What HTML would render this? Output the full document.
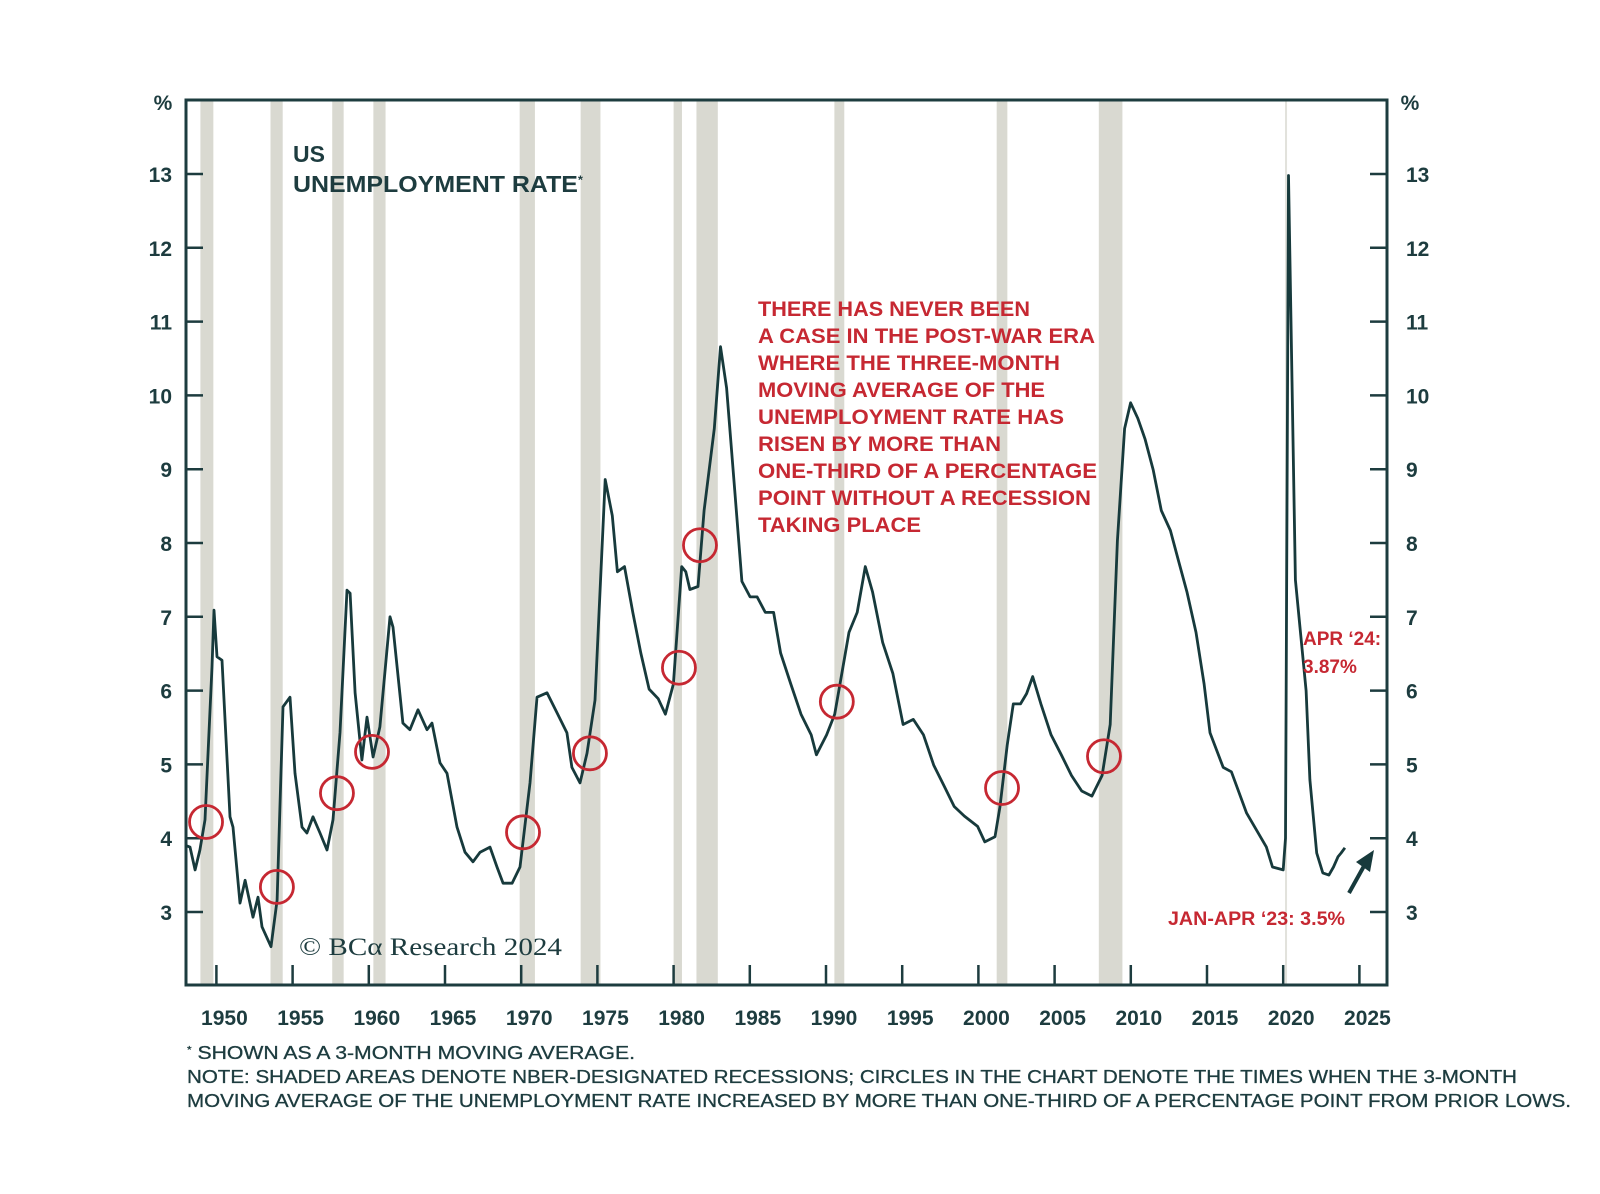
<!DOCTYPE html>
<html><head><meta charset="utf-8"><style>
html,body{margin:0;padding:0;background:#fff;}
svg{display:block;}
text{font-family:"Liberation Sans",sans-serif;}
</style></head><body>
<svg id="chart" width="1600" height="1194" viewBox="0 0 1600 1194">
<g id="shading"></g>
<g id="axes"></g>
<g id="series"></g>
<g id="circles"></g>
<text x="293" y="162" font-size="23" font-weight="bold" fill="#1d3c3f">US</text>
<text x="293" y="192" font-size="23" font-weight="bold" fill="#1d3c3f" textLength="290" lengthAdjust="spacingAndGlyphs">UNEMPLOYMENT RATE<tspan font-size="12" dy="-8">*</tspan></text>
<g fill="#c62832" font-size="21" font-weight="bold">
<text x="758" y="316" textLength="272" lengthAdjust="spacingAndGlyphs">THERE HAS NEVER BEEN</text>
<text x="758" y="343" textLength="337" lengthAdjust="spacingAndGlyphs">A CASE IN THE POST-WAR ERA</text>
<text x="758" y="370" textLength="302" lengthAdjust="spacingAndGlyphs">WHERE THE THREE-MONTH</text>
<text x="758" y="397" textLength="287" lengthAdjust="spacingAndGlyphs">MOVING AVERAGE OF THE</text>
<text x="758" y="424" textLength="306" lengthAdjust="spacingAndGlyphs">UNEMPLOYMENT RATE HAS</text>
<text x="758" y="451" textLength="243" lengthAdjust="spacingAndGlyphs">RISEN BY MORE THAN</text>
<text x="758" y="478" textLength="339" lengthAdjust="spacingAndGlyphs">ONE-THIRD OF A PERCENTAGE</text>
<text x="758" y="505" textLength="333" lengthAdjust="spacingAndGlyphs">POINT WITHOUT A RECESSION</text>
<text x="758" y="532" textLength="163" lengthAdjust="spacingAndGlyphs">TAKING PLACE</text>
</g>
<text x="1303" y="645" font-size="19" font-weight="bold" fill="#c62832">APR ‘24:</text>
<text x="1303" y="673" font-size="19" font-weight="bold" fill="#c62832">3.87%</text>
<text x="1168" y="925" font-size="19" font-weight="bold" fill="#c62832" textLength="177" lengthAdjust="spacingAndGlyphs">JAN-APR ‘23: 3.5%</text>
<g>
<line x1="1349" y1="893" x2="1364" y2="866" stroke="#173a3c" stroke-width="4"/>
<polygon points="1374,850 1356,862 1370,872" fill="#173a3c"/>
</g>
<text x="299" y="955" style="font-family:'Liberation Serif',serif" font-size="25" fill="#1d3c3f" textLength="263" lengthAdjust="spacingAndGlyphs">© BCα Research 2024</text>
<g fill="#1d3c3f" font-size="18" stroke="#1d3c3f" stroke-width="0.3">
<text x="187" y="1059" textLength="448" lengthAdjust="spacingAndGlyphs"><tspan font-size="10" dy="-6">*</tspan><tspan dy="6"> SHOWN AS A 3-MONTH MOVING AVERAGE.</tspan></text>
<text x="187" y="1083" textLength="1330" lengthAdjust="spacingAndGlyphs">NOTE: SHADED AREAS DENOTE NBER-DESIGNATED RECESSIONS; CIRCLES IN THE CHART DENOTE THE TIMES WHEN THE 3-MONTH</text>
<text x="187" y="1107" textLength="1384" lengthAdjust="spacingAndGlyphs">MOVING AVERAGE OF THE UNEMPLOYMENT RATE INCREASED BY MORE THAN ONE-THIRD OF A PERCENTAGE POINT FROM PRIOR LOWS.</text>
</g>
</svg>
<script>
const years=[1948.0,1948.27,1948.6,1948.92,1949.25,1949.71,1949.84,1950.04,1950.37,1950.89,1951.09,1951.55,1951.88,1952.4,1952.73,1952.99,1953.58,1953.98,1954.37,1954.83,1955.16,1955.62,1955.94,1956.34,1956.8,1957.26,1957.65,1958.11,1958.57,1958.77,1959.1,1959.55,1959.88,1960.28,1960.73,1961.39,1961.59,1962.24,1962.7,1963.23,1963.82,1964.15,1964.67,1965.13,1965.79,1966.31,1966.84,1967.3,1967.95,1968.41,1968.81,1969.4,1969.92,1970.58,1971.04,1971.69,1972.35,1973.0,1973.33,1973.86,1974.32,1974.84,1975.51,1975.98,1976.31,1976.78,1977.32,1977.85,1978.39,1978.99,1979.46,1979.99,1980.53,1980.8,1981.07,1981.6,1982.0,1982.67,1983.08,1983.48,1984.01,1984.48,1985.02,1985.48,1986.02,1986.56,1987.02,1987.69,1988.36,1989.03,1989.37,1990.04,1990.57,1991.04,1991.51,1992.05,1992.58,1993.05,1993.72,1994.39,1995.06,1995.73,1996.4,1997.07,1997.74,1998.41,1999.08,1999.95,2000.42,2001.09,2001.42,2001.89,2002.29,2002.76,2003.16,2003.56,2004.1,2004.77,2005.44,2006.11,2006.78,2007.45,2008.12,2008.65,2009.12,2009.59,2009.99,2010.46,2010.93,2011.47,2012.0,2012.6,2013.14,2013.68,2014.28,2014.81,2015.2,2016.06,2016.6,2017.6,2018.9,2019.3,2020.0,2020.15,2020.35,2020.8,2021.5,2021.75,2022.2,2022.6,2023.0,2023.3,2023.6,2023.8,2024.05];
const rates=[3.9,3.88,3.57,3.84,4.25,6.32,7.09,6.46,6.41,4.29,4.15,3.12,3.43,2.93,3.2,2.8,2.53,3.16,5.78,5.91,4.88,4.15,4.07,4.29,4.07,3.84,4.25,5.43,7.36,7.32,5.97,5.06,5.64,5.1,5.51,7.0,6.86,5.56,5.47,5.74,5.47,5.56,5.02,4.88,4.15,3.81,3.68,3.81,3.88,3.61,3.39,3.39,3.61,4.75,5.91,5.97,5.7,5.43,4.96,4.75,5.15,5.87,8.86,8.37,7.61,7.68,7.06,6.51,6.02,5.89,5.68,6.09,7.68,7.61,7.37,7.41,8.44,9.55,10.66,10.1,8.72,7.48,7.27,7.27,7.06,7.06,6.51,6.09,5.68,5.4,5.13,5.4,5.68,6.23,6.79,7.06,7.68,7.34,6.65,6.23,5.54,5.61,5.4,4.99,4.71,4.43,4.3,4.16,3.95,4.02,4.43,5.26,5.82,5.82,5.96,6.19,5.82,5.4,5.13,4.85,4.64,4.57,4.85,5.54,8.03,9.55,9.9,9.69,9.41,8.99,8.44,8.17,7.75,7.34,6.79,6.09,5.43,4.96,4.9,4.34,3.88,3.61,3.57,4.0,12.98,7.5,6.0,4.79,3.8,3.53,3.5,3.61,3.75,3.8,3.87];
const recStart=[1948.95,1953.55,1957.6,1960.3,1969.9,1973.9,1980.0,1981.5,1990.55,2001.2,2007.9];
const recEnd=[1949.8,1954.35,1958.35,1961.1,1970.9,1975.2,1980.55,1982.9,1991.2,2001.9,2009.45];
const circleYears=[1949.32,1953.97,1957.91,1960.21,1970.12,1974.51,1980.35,1981.73,1990.71,2001.55,2008.24];
const circleRates=[4.22,3.34,4.61,5.17,4.08,5.15,6.31,7.97,5.85,4.68,5.11];
const yTicks=[3,4,5,6,7,8,9,10,11,12,13];
const xTicks=[1950,1955,1960,1965,1970,1975,1980,1985,1990,1995,2000,2005,2010,2015,2020,2025];

const L=186,R=1387,T=100,B=985;
const X=yr=>216.4+(yr-1950)*15.24;
const Y=v=>912-(v-3)*73.8;
const NS='http://www.w3.org/2000/svg';
function mk(tag,parent){const e=document.createElementNS(NS,tag);parent.appendChild(e);return e;}
const C='#1d3c3f';

const sh=document.getElementById('shading');
recStart.forEach((s,i)=>{const r=mk('rect',sh);


r.setAttribute('x',X(s));r.setAttribute('y',T);r.setAttribute('width',X(recEnd[i])-X(s));r.setAttribute('height',B-T);r.setAttribute('fill','#d9d9d1');});
{const r=mk('rect',sh);


r.setAttribute('x',X(2020.12));r.setAttribute('y',T);r.setAttribute('width',2);r.setAttribute('height',B-T);r.setAttribute('fill','#e2e2dc');}

const ax=document.getElementById('axes');
const frame=mk('rect',ax);


frame.setAttribute('x',L);frame.setAttribute('y',T);frame.setAttribute('width',R-L);frame.setAttribute('height',B-T);frame.setAttribute('fill','none');frame.setAttribute('stroke',C);frame.setAttribute('stroke-width','3');
yTicks.forEach(v=>{
 const y=Y(v);
 const t1=mk('line',ax);
 
 
 t1.setAttribute('x1',L);t1.setAttribute('x2',L+17);t1.setAttribute('y1',y);t1.setAttribute('y2',y);t1.setAttribute('stroke',C);t1.setAttribute('stroke-width','2.5');
 const t2=mk('line',ax);
 
 
 t2.setAttribute('x1',R-17);t2.setAttribute('x2',R);t2.setAttribute('y1',y);t2.setAttribute('y2',y);t2.setAttribute('stroke',C);t2.setAttribute('stroke-width','2.5');
 const l1=mk('text',ax);
 
 
 l1.setAttribute('x',172);l1.setAttribute('y',y+8);l1.setAttribute('text-anchor','end');l1.setAttribute('font-size','21');l1.setAttribute('font-weight','bold');l1.setAttribute('fill',C);l1.textContent=v;
 const l2=mk('text',ax);
 
 
 l2.setAttribute('x',1406);l2.setAttribute('y',y+8);l2.setAttribute('font-size','21');l2.setAttribute('font-weight','bold');l2.setAttribute('fill',C);l2.textContent=v;
});
xTicks.forEach(yr=>{
 const x=X(yr);
 const t=mk('line',ax);
 
 
 t.setAttribute('x1',x);t.setAttribute('x2',x);t.setAttribute('y1',B-20);t.setAttribute('y2',B);t.setAttribute('stroke',C);t.setAttribute('stroke-width','2.5');
 const l=mk('text',ax);
 
 
 l.setAttribute('x',x+8);l.setAttribute('y',1025);l.setAttribute('text-anchor','middle');l.setAttribute('font-size','21');l.setAttribute('font-weight','bold');l.setAttribute('fill',C);l.textContent=yr;
});
[[163,'left-y-unit'],[1410,'right-y-unit']].forEach(([x,n])=>{const p=mk('text',ax);


p.setAttribute('x',x);p.setAttribute('y',110);p.setAttribute('text-anchor','middle');p.setAttribute('font-size','21');p.setAttribute('font-weight','bold');p.setAttribute('fill',C);p.textContent='%';});

const se=document.getElementById('series');
const path=mk('path',se);


path.setAttribute('d',years.map((yr,i)=>(i?'L':'M')+X(yr).toFixed(1)+','+Y(rates[i]).toFixed(1)).join(''));
path.setAttribute('fill','none');path.setAttribute('stroke','#173a3c');path.setAttribute('stroke-width','2.8');path.setAttribute('stroke-linejoin','round');

const ci=document.getElementById('circles');
circleYears.forEach((yr,i)=>{const c=mk('circle',ci);


c.setAttribute('cx',X(yr));c.setAttribute('cy',Y(circleRates[i]));c.setAttribute('r',16.5);c.setAttribute('fill','none');c.setAttribute('stroke','#c62832');c.setAttribute('stroke-width','2.8');});
</script>
</body></html>
